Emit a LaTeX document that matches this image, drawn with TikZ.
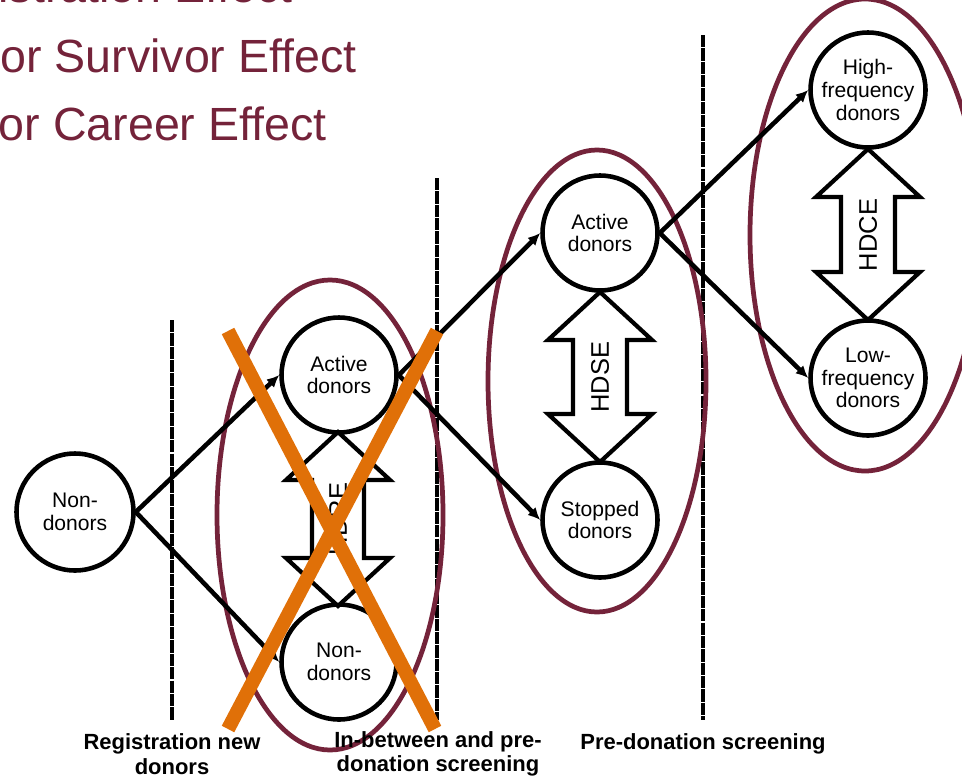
\documentclass[tikz,border=0pt]{standalone}
\usepackage{fontspec}
\setmainfont{Liberation Sans}
\usepackage{tikz}
\usetikzlibrary{arrows.meta}
\definecolor{weinrot}{RGB}{116,35,58}
\definecolor{kreuzorange}{RGB}{224,112,8}

\begin{document}
\begin{tikzpicture}[x=0.02cm, y=-0.02cm, >={Latex[length=7pt,width=6.5pt]}, %Voreinstellung für Pfeilspitzen
	knoten/.style={draw, circle, fill=white, line width=2.6pt, minimum size=2.3cm, inner sep=0pt, align=center},
	gruppe/.style={draw=weinrot, line width=2.7pt},
	phase/.style={line width=2.8pt, dash pattern=on 7pt off 0.6pt},
	effekt/.style={draw, fill=white, line width=2.4pt, line join=miter},
	pfeil/.style={->, line width=2.6pt},
	kreuz/.style={draw=kreuzorange, line width=8pt},
	font=\fontsize{12}{13}\selectfont]
	\useasboundingbox (0,0) rectangle (962,781);
	\clip (0,0) rectangle (962,781);
	% Ueberschriften oben links
	\begin{scope}[every node/.style={weinrot, anchor=base east, inner sep=0pt, font=\fontsize{26.5}{30}\selectfont}]
		\node (eff1) at (293,3) {Registration Effect};
		\node (eff2) at (357,72) {Donor Survivor Effect};
		\node (eff3) at (327,140) {Donor Career Effect};
	\end{scope}
	% Phasengrenzen
	\draw[phase] (172,320) -- (172,720);
	\draw[phase] (437,178) -- (437,720);
	\draw[phase] (703,35) -- (703,720);
	% Gruppen
	\draw[gruppe] (330,515) ellipse (113 and 235);
	\draw[gruppe] (597,381) ellipse (109 and 231);
	\draw[gruppe] (865,235) ellipse (115 and 236);
	% Zustaende
	\node[knoten, minimum size=2.34cm] (non0) at (75,512) {Non-\\donors};
	\node[knoten] (act1) at (339,375) {Active\\donors};
	\node[knoten] (non1) at (339,662) {Non-\\donors};
	\node[knoten] (act2) at (600,233) {Active\\donors};
	\node[knoten] (stop2) at (600,520) {Stopped\\donors};
	\node[knoten] (high3) at (868,90) {High-\\frequency\\donors};
	\node[knoten] (low3) at (868,378) {Low-\\frequency\\donors};
	% Uebergaenge
	\draw[pfeil] (non0.east) -- (act1.west);
	\draw[pfeil] (non0.east) -- (non1.west);
	\draw[pfeil] (act1.east) -- (act2.west);
	\draw[pfeil] (act1.east) -- (stop2.west);
	\draw[pfeil] (act2.east) -- (high3.west);
	\draw[pfeil] (act2.east) -- (low3.west);
	% Effekt-Doppelpfeile
	\draw[effekt] (338,432) -- (390,480) -- (364,480) -- (364,558) -- (390,558) -- (338,606) -- (286,558) -- (312,558) -- (312,480) -- (286,480) -- cycle;
	\node[rotate=90, font=\fontsize{14.5}{16}\selectfont] (hdre) at (338,519) {HDRE};
	\draw[effekt] (600,292) -- (652,340) -- (627,340) -- (627,414) -- (652,414) -- (600,462) -- (548,414) -- (573,414) -- (573,340) -- (548,340) -- cycle;
	\node[rotate=90, font=\fontsize{14.5}{16}\selectfont] (hdse) at (600,377) {HDSE};
	\draw[effekt] (868,149) -- (920,197) -- (895,197) -- (895,272) -- (920,272) -- (868,320) -- (816,272) -- (841,272) -- (841,197) -- (816,197) -- cycle;
	\node[rotate=90, font=\fontsize{14.5}{16}\selectfont] (hdce) at (868,235) {HDCE};
	% durchgestrichen
	\draw[kreuz] (228,331) -- (435,729);
	\draw[kreuz] (437,331) -- (228,729);
	% Phasen unten
	\begin{scope}[every node/.style={align=center, font=\fontsize{12.5}{14}\selectfont\bfseries}]
		\node (ph1) at (172,754) {Registration new\\donors};
		\node (ph2) at (438,754) {In-between and pre-\\donation screening};
		\node (ph3) at (703,744) {Pre-donation screening};
	\end{scope}
\end{tikzpicture}
\end{document}
